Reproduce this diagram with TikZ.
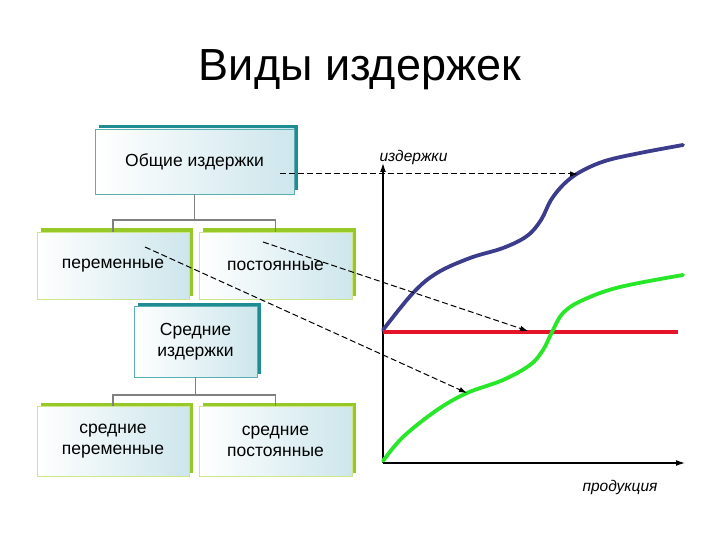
\documentclass[tikz,border=0pt]{standalone}
\usepackage{fontspec}
\setmainfont{Liberation Sans}
\usetikzlibrary{shadows,arrows.meta}
\definecolor{tealdark}{RGB}{31,140,145}
\definecolor{teallight}{RGB}{90,175,180}
\definecolor{greendark}{RGB}{150,200,40}
\definecolor{greenlight}{RGB}{205,230,140}
\definecolor{boxblue}{RGB}{205,230,236}
\definecolor{curveblue}{RGB}{60,60,140}
\definecolor{curvegreen}{RGB}{40,230,40}
\definecolor{curvered}{RGB}{230,20,40}
\definecolor{treegray}{RGB}{128,128,128}
\tikzset{
  box/.style={draw, line width=0.7pt, left color=white, right color=boxblue,
    minimum width=152pt, minimum height=67pt, inner sep=2pt, align=center,
    font=\fontsize{17.5}{21}\selectfont},
  tealbox/.style={box, draw=teallight,
    general shadow={shadow xshift=3.5pt, shadow yshift=3.5pt, fill=tealdark}},
  greenbox/.style={box, draw=greenlight,
    general shadow={shadow xshift=3.5pt, shadow yshift=3.5pt, fill=greendark}},
  tree/.style={draw=treegray, line width=1.4pt},
  guide/.style={dash pattern=on 6pt off 3pt, line width=1pt, -{Latex[length=8pt,width=5.5pt]}},
  axis/.style={line width=1.3pt, -{Latex[length=9pt,width=6pt]}},
  curve/.style={line width=3.8pt, line cap=round, line join=round},
  axlabel/.style={font=\fontsize{15.5}{18}\selectfont\itshape}
}
\begin{document}
\begin{tikzpicture}[x=1pt,y=-1pt]
\useasboundingbox (0,0) rectangle (720,540);
% title
\node[font=\fontsize{45}{52}\selectfont] (title) at (360,70) {Виды издержек};
% boxes
\node[tealbox, minimum width=199pt, minimum height=65pt] (gen) at (194.5,161.5) {Общие издержки};
\node[greenbox] (var) at (113,265.5) {переменные};
\node[greenbox, minimum width=153pt] (fix) at (275.5,265.5) {постоянные};
\node[tealbox, minimum width=123pt, minimum height=71pt] (avg) at (195.5,341.5) {Средние\\издержки};
\node[greenbox, minimum height=70pt] (avar) at (113,441) {средние\\переменные};
\node[greenbox, minimum width=153pt, minimum height=70pt] (afix) at (275.5,441) {средние\\постоянные};
% tree connectors
\draw[tree] (gen.south) -- (gen.south |- 0,220);
\draw[tree] (var.north) -- (var.north |- 0,220) -- (fix.north |- 0,220) -- (fix.north);
\draw[tree] (avg.south) -- (avg.south |- 0,395);
\draw[tree] (avar.north) -- (avar.north |- 0,395) -- (afix.north |- 0,395) -- (afix.north);
% axes
\coordinate (O) at (383,463);
\coordinate (ytop) at (383,163);
\coordinate (xend) at (685,463);
\draw[axis] (O) -- (ytop);
\draw[axis] (O) -- (xend);
\node[axlabel, anchor=west] (ylab) at (376,157) {издержки};
\node[axlabel] (xlab) at (620,487) {продукция};
% curves
\draw[curve, curveblue] plot[smooth, tension=0.6] coordinates {(383,330) (413,293) (437,273) (470,258) (503,248) (527,236) (541,220) (551,200) (564,184) (580,172) (605,161) (640,153) (683,145)};
\draw[curve, curvered, line cap=butt] (383,332) -- (678,332);
\draw[curve, curvegreen] plot[smooth, tension=0.6] coordinates {(383,461) (403,437) (437,410) (467,393) (503,380) (530,365) (543,350) (552,332) (563,313) (583,300) (620,287) (683,275)};
% dashed guides
\coordinate (g1s) at (280,174);
\coordinate (g1e) at (578,174);
\coordinate (g2s) at (263,242);
\coordinate (g2e) at (528,331);
\coordinate (g3s) at (145,247);
\coordinate (g3e) at (467,393);
\draw[guide] (g1s) -- (g1e);
\draw[guide] (g2s) -- (g2e);
\draw[guide] (g3s) -- (g3e);
\end{tikzpicture}
\end{document}
